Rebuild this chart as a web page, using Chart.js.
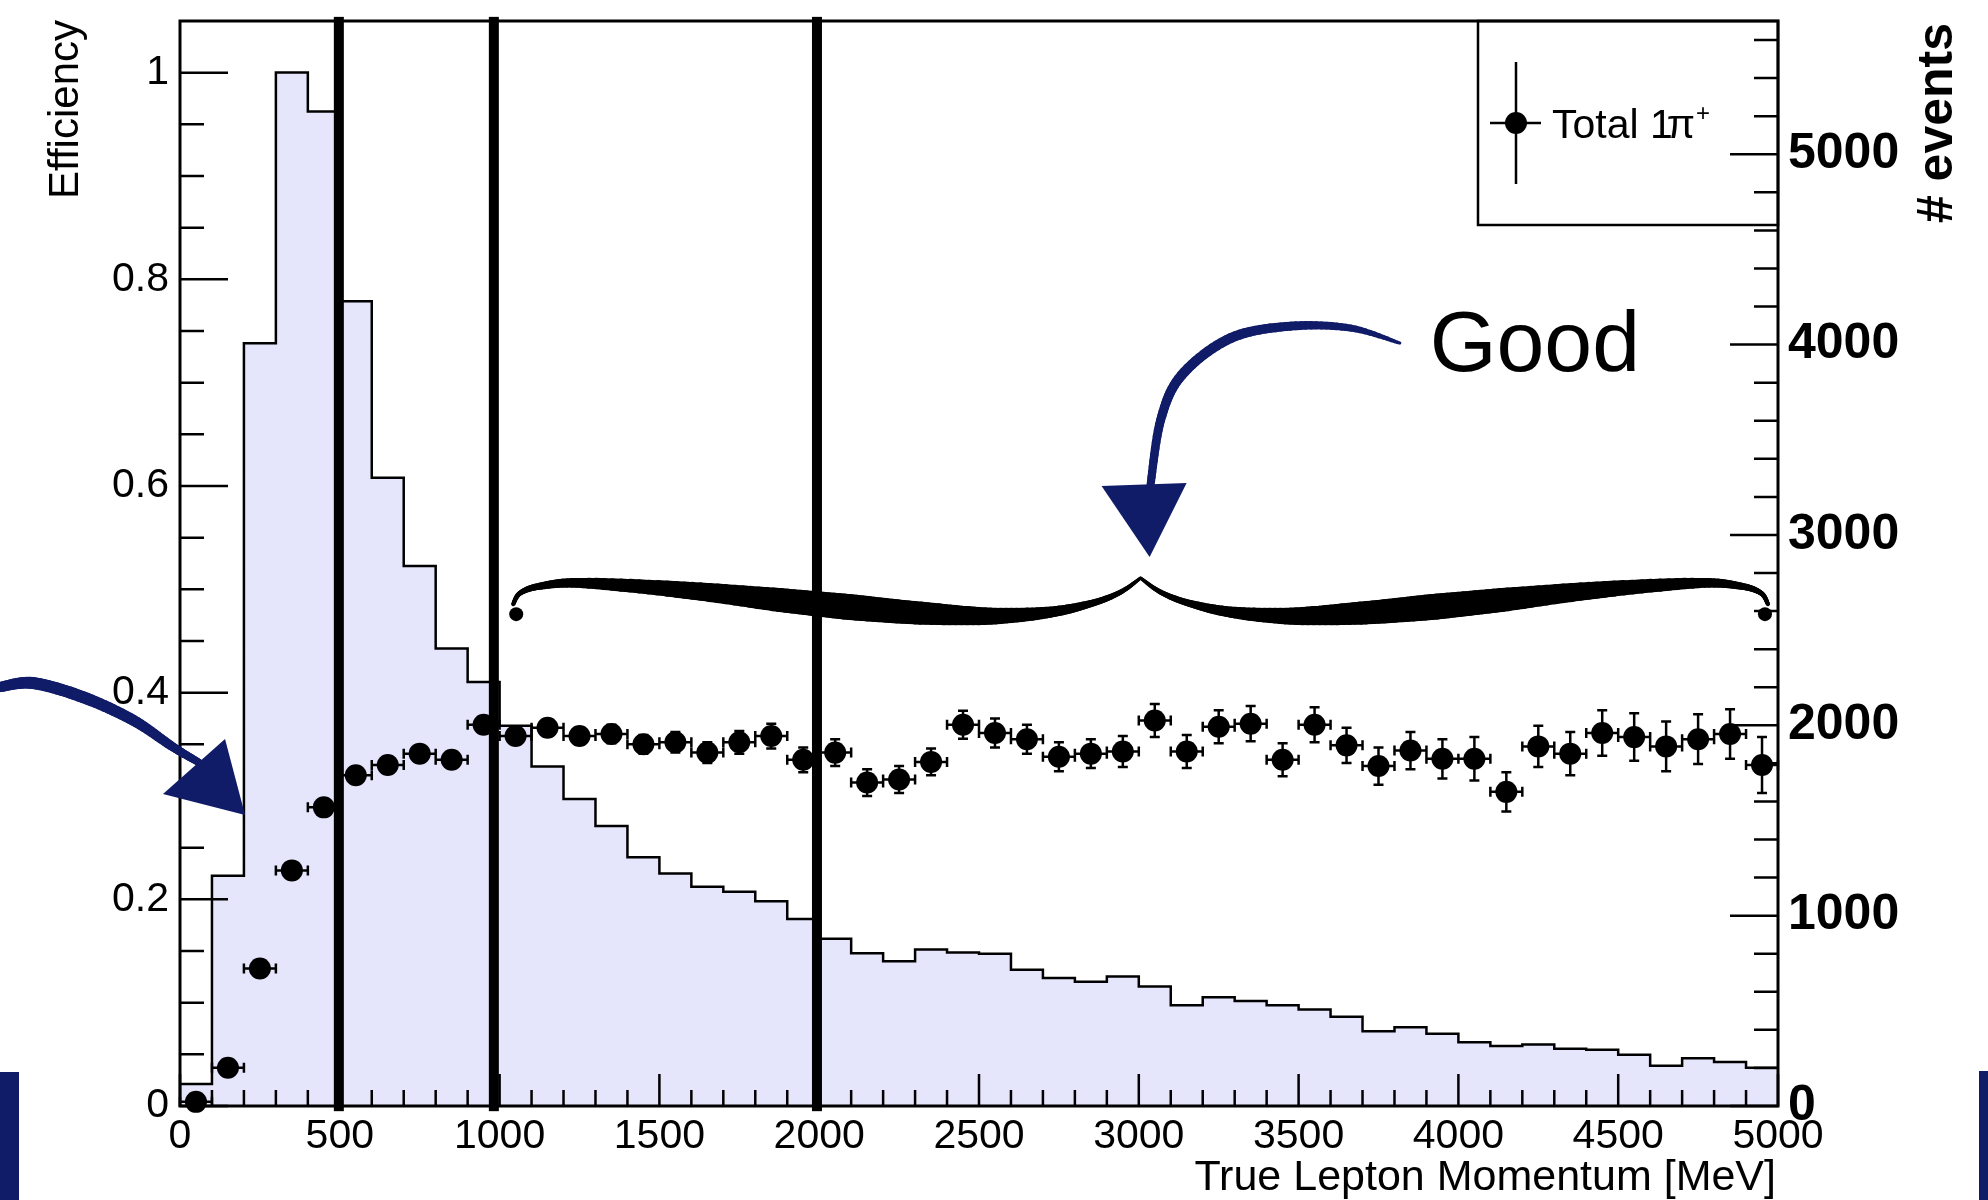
<!DOCTYPE html>
<html>
<head>
<meta charset="utf-8">
<title>Efficiency vs true lepton momentum</title>
<script src="https://cdn.jsdelivr.net/npm/chart.js@4.4.1/dist/chart.umd.min.js"></script>
<style>
  html, body { margin: 0; padding: 0; background: #fff; }
  #wrap { width: 1988px; height: 1200px; position: relative; }
</style>
</head>
<body>
<div id="wrap"><canvas id="chart" width="1988" height="1200"></canvas></div>
<script>
// --- DATA (100 MeV bins) ---
const binEdges = [0, 100, 200, 300, 400, 500, 600, 700, 800, 900,
  1000, 1100, 1200, 1300, 1400, 1500, 1600, 1700, 1800, 1900,
  2000, 2100, 2200, 2300, 2400, 2500, 2600, 2700, 2800, 2900,
  3000, 3100, 3200, 3300, 3400, 3500, 3600, 3700, 3800, 3900,
  4000, 4100, 4200, 4300, 4400, 4500, 4600, 4700, 4800, 4900];
const binCenters = [50, 150, 250, 350, 450, 550, 650, 750, 850, 950,
  1050, 1150, 1250, 1350, 1450, 1550, 1650, 1750, 1850, 1950,
  2050, 2150, 2250, 2350, 2450, 2550, 2650, 2750, 2850, 2950,
  3050, 3150, 3250, 3350, 3450, 3550, 3650, 3750, 3850, 3950,
  4050, 4150, 4250, 4350, 4450, 4550, 4650, 4750, 4850, 4950];
const binHalfWidth = 50;

// # events per bin (right axis)
const histEvents = [115, 1210, 4007, 5430, 5224, 4228, 3300, 2837, 2403, 2228,
  1998, 1784, 1613, 1471, 1307, 1222, 1152, 1125, 1076, 982,
  878, 802, 760, 822, 806, 800, 716, 672, 653, 680,
  628, 529, 571, 551, 529, 507, 469, 393, 414, 379,
  335, 315, 323, 301, 295, 269, 211, 251, 231, 201];

// Total 1pi+ efficiency (left axis)
const effValues = [0.004, 0.037, 0.133, 0.228, 0.289, 0.320, 0.330, 0.341, 0.335, 0.369,
  0.358, 0.366, 0.358, 0.360, 0.350, 0.352, 0.342, 0.352, 0.358, 0.335,
  0.342, 0.313, 0.316, 0.333, 0.369, 0.361, 0.355, 0.338, 0.341, 0.343,
  0.373, 0.343, 0.367, 0.370, 0.335, 0.369, 0.349, 0.329, 0.344, 0.336,
  0.336, 0.304, 0.348, 0.341, 0.361, 0.357, 0.348, 0.355, 0.360, 0.330];
const effErrors = [0.003, 0.004, 0.005, 0.005, 0.005, 0.005, 0.005, 0.006, 0.006, 0.007,
  0.007, 0.008, 0.008, 0.009, 0.009, 0.010, 0.010, 0.011, 0.012, 0.012,
  0.013, 0.013, 0.013, 0.013, 0.0135, 0.014, 0.014, 0.014, 0.014, 0.015,
  0.016, 0.016, 0.016, 0.017, 0.016, 0.017, 0.017, 0.018, 0.018, 0.019,
  0.021, 0.019, 0.020, 0.021, 0.022, 0.023, 0.024, 0.024, 0.024, 0.027];

const momentumTicks = [0, 500, 1000, 1500, 2000, 2500, 3000, 3500, 4000, 4500, 5000];
const effTicks = [0, 0.2, 0.4, 0.6, 0.8, 1];
const eventTicks = [0, 1000, 2000, 3000, 4000, 5000];

// momentum cuts drawn as thick lines
const cutMomenta = [497, 982, 1993];

const legendMain = 'Total 1';
const legendPi = '\u03c0';
const legendSup = '+';
const noteText = 'Good';

// --- annotation geometry, in (momentum, efficiency, stroke px) ---
const braceArm = [[1042.6, 0.4857, 4], [1064.5, 0.4964, 5], [1127.1, 0.5031, 7], [1258.6, 0.5061, 10],
  [1578.0, 0.4993, 17], [1878.5, 0.4896, 24], [2097.7, 0.4828, 26], [2316.8, 0.4770, 23],
  [2536.0, 0.4741, 17], [2723.9, 0.4780, 11], [2855.4, 0.4867, 7], [2943.0, 0.4973, 5], [3005.6, 0.5109, 3]];
const braceKnob = [1052.0, 0.476];
const braceTip = 3005.6;
const arrowLeft = [[-563.6, 0.4054, 10], [-460.2, 0.4093, 12], [-303.7, 0.3957, 12], [-147.2, 0.3735, 11], [-21.9, 0.3474, 9], [62.6, 0.3319, 7]];
const arrowLeftHead = [[-53.2, 0.3019], [140.9, 0.3551], [203.5, 0.2816]];
const arrowGood = [[3816.5, 0.7383, 3], [3663.1, 0.7528, 7], [3475.3, 0.7547, 9], [3287.4, 0.7431, 10], [3134.0, 0.7073, 10], [3068.3, 0.6638, 9], [3037.0, 0.6019, 8]];
const arrowGoodHead = [[2883.5, 0.6000], [3149.6, 0.6028], [3033.8, 0.5312]];
const notePos = [3910, 0.711];

const FONT = "'Liberation Sans', Arial, Helvetica, sans-serif";
const NAVY = '#101c68';
const FILL = '#e5e5fb';

const xMax = 5000;
const histPoints = binEdges.map((e, i) => ({ x: e, y: histEvents[i] }));
histPoints.push({ x: xMax, y: histEvents[histEvents.length - 1] });
const effPoints = binCenters.map((c, i) => ({ x: c, y: effValues[i] }));

// --- helpers ---
function toPx(chart, p) {
    return [chart.scales.x.getPixelForValue(p[0]), chart.scales.y.getPixelForValue(p[1]), p[2]];
}

function smooth(pts, steps) {
    const out = [];
    for (let i = 0; i < pts.length - 1; i++) {
        const p0 = pts[Math.max(i - 1, 0)], p1 = pts[i], p2 = pts[i + 1], p3 = pts[Math.min(i + 2, pts.length - 1)];
        for (let s = 0; s < steps; s++) {
            const t = s / steps, t2 = t * t, t3 = t2 * t;
            const f = k => 0.5 * (2 * p1[k] + (-p0[k] + p2[k]) * t + (2 * p0[k] - 5 * p1[k] + 4 * p2[k] - p3[k]) * t2 + (-p0[k] + 3 * p1[k] - 3 * p2[k] + p3[k]) * t3);
            out.push([f(0), f(1), p1[2] + (p2[2] - p1[2]) * t]);
        }
    }
    out.push(pts[pts.length - 1]);
    return out;
}

function taperedStroke(ctx, pts) {
    const s = smooth(pts, 12);
    ctx.lineCap = 'round';
    for (let i = 0; i < s.length - 1; i++) {
        ctx.lineWidth = (s[i][2] + s[i + 1][2]) / 2;
        ctx.beginPath();
        ctx.moveTo(s[i][0], s[i][1]);
        ctx.lineTo(s[i + 1][0], s[i + 1][1]);
        ctx.stroke();
    }
}

function triangle(ctx, pts) {
    ctx.beginPath();
    ctx.moveTo(pts[0][0], pts[0][1]);
    ctx.lineTo(pts[1][0], pts[1][1]);
    ctx.lineTo(pts[2][0], pts[2][1]);
    ctx.closePath();
    ctx.fill();
}

// no auto padding: keep the frame where ROOT put it
function fixPadding(s) {
    s.paddingTop = 0; s.paddingBottom = 0; s.paddingLeft = 0; s.paddingRight = 0;
}

// --- error bars under the markers ---
const errorBars = {
    id: 'errorBars',
    beforeDatasetDraw(chart, args) {
        if (args.index !== 1) return;
        const { ctx, scales: { x, y } } = chart;
        ctx.save();
        ctx.strokeStyle = '#000';
        ctx.lineWidth = 2.5;
        ctx.beginPath();
        binCenters.forEach((c, i) => {
            const xc = x.getPixelForValue(c);
            const yc = y.getPixelForValue(effValues[i]);
            const x0 = x.getPixelForValue(c - binHalfWidth), x1 = x.getPixelForValue(c + binHalfWidth);
            const yt = y.getPixelForValue(effValues[i] + effErrors[i]);
            const yb = y.getPixelForValue(effValues[i] - effErrors[i]);
            ctx.moveTo(x0, yc); ctx.lineTo(x1, yc);
            ctx.moveTo(x0, yc - 5); ctx.lineTo(x0, yc + 5);
            ctx.moveTo(x1, yc - 5); ctx.lineTo(x1, yc + 5);
            ctx.moveTo(xc, yt); ctx.lineTo(xc, yb);
            ctx.moveTo(xc - 5, yt); ctx.lineTo(xc + 5, yt);
            ctx.moveTo(xc - 5, yb); ctx.lineTo(xc + 5, yb);
        });
        ctx.stroke();
        ctx.restore();
    }
};

// --- frame, inward ticks, legend, notes ---
const decorations = {
    id: 'decorations',
    beforeDraw(chart) {
        const ctx = chart.ctx;
        ctx.save();
        ctx.fillStyle = '#fff';
        ctx.fillRect(0, 0, chart.width, chart.height);
        ctx.restore();
    },
    afterDatasetsDraw(chart) {
        const { ctx, chartArea: a, scales } = chart;
        ctx.save();

        // ticks
        ctx.strokeStyle = '#000';
        ctx.lineWidth = 2.5;
        ctx.beginPath();
        for (let v = 0; v <= xMax; v += 100) {
            const xp = scales.x.getPixelForValue(v);
            const len = v % 500 === 0 ? 32 : 16;
            ctx.moveTo(xp, a.bottom); ctx.lineTo(xp, a.bottom - len);
        }
        for (let i = 0; i <= 20; i++) {
            const yp = scales.y.getPixelForValue(i * 0.05);
            const len = i % 4 === 0 ? 48 : 24;
            ctx.moveTo(a.left, yp); ctx.lineTo(a.left + len, yp);
        }
        for (let v = 0; v <= scales.y2.max; v += 200) {
            const yp = scales.y2.getPixelForValue(v);
            const len = v % 1000 === 0 ? 48 : 24;
            ctx.moveTo(a.right, yp); ctx.lineTo(a.right - len, yp);
        }
        ctx.stroke();

        // frame
        ctx.lineWidth = 3;
        ctx.strokeRect(a.left, a.top, a.right - a.left, a.bottom - a.top);

        // legend
        const lw = 300, lh = 204;
        const lx = a.right - lw, ly = a.top;
        ctx.lineWidth = 2.5;
        ctx.strokeRect(lx, ly, lw, lh);
        const mx = lx + 38, my = ly + 102;
        ctx.beginPath();
        ctx.moveTo(mx, my - 61); ctx.lineTo(mx, my + 61);
        ctx.moveTo(mx - 26, my); ctx.lineTo(mx + 25, my);
        ctx.stroke();
        ctx.fillStyle = '#000';
        ctx.beginPath();
        ctx.arc(mx, my, 11, 0, Math.PI * 2);
        ctx.fill();
        ctx.font = '41px ' + FONT;
        ctx.textAlign = 'left';
        ctx.textBaseline = 'alphabetic';
        let tx = lx + 74;
        ctx.fillText(legendMain, tx, ly + 117);
        tx += ctx.measureText(legendMain).width - 6;
        ctx.fillText(legendPi, tx, ly + 117);
        tx += ctx.measureText(legendPi).width;
        ctx.font = '24px ' + FONT;
        ctx.fillText(legendSup, tx + 1, ly + 100);

        // momentum cut lines
        const yTop = scales.y.getPixelForValue(1.054), yBot = scales.y.getPixelForValue(-0.005);
        cutMomenta.forEach(m => {
            const xp = scales.x.getPixelForValue(m);
            ctx.fillRect(xp - 5, yTop, 10, yBot - yTop);
        });

        // curly brace
        ctx.strokeStyle = '#000';
        const left = braceArm.map(p => toPx(chart, p));
        const right = braceArm.map(p => toPx(chart, [2 * braceTip - p[0], p[1], p[2]]));
        taperedStroke(ctx, left);
        taperedStroke(ctx, right);
        [braceKnob, [2 * braceTip - braceKnob[0], braceKnob[1]]].forEach(k => {
            const p = toPx(chart, k);
            ctx.beginPath();
            ctx.arc(p[0], p[1], 7, 0, Math.PI * 2);
            ctx.fill();
        });

        // hand drawn arrows
        ctx.strokeStyle = NAVY;
        ctx.fillStyle = NAVY;
        taperedStroke(ctx, arrowLeft.map(p => toPx(chart, p)));
        triangle(ctx, arrowLeftHead.map(p => toPx(chart, p)));
        taperedStroke(ctx, arrowGood.map(p => toPx(chart, p)));
        triangle(ctx, arrowGoodHead.map(p => toPx(chart, p)));

        // "Good"
        const g = toPx(chart, notePos);
        ctx.fillStyle = '#000';
        ctx.font = '86px ' + FONT;
        ctx.fillText(noteText, g[0], g[1]);

        // axis titles
        ctx.font = '43px ' + FONT;
        ctx.textAlign = 'right';
        ctx.fillText('True Lepton Momentum [MeV]', a.right - 2, 1190);
        ctx.save();
        ctx.font = '42px ' + FONT;
        ctx.translate(78, a.top - 1);
        ctx.rotate(-Math.PI / 2);
        ctx.fillText('Efficiency', 0, 0);
        ctx.restore();
        ctx.save();
        ctx.font = 'bold 50px ' + FONT;
        ctx.translate(1952, a.top + 2);
        ctx.rotate(-Math.PI / 2);
        ctx.fillText('# events', 0, 0);
        ctx.restore();

        // slide edge bars
        ctx.fillStyle = NAVY;
        ctx.fillRect(0, 1072, 19, 128);
        ctx.fillRect(1979, 1071, 9, 129);

        ctx.restore();
    }
};

const tickFont = { family: FONT, size: 41 };

new Chart(document.getElementById('chart'), {
    data: {
        datasets: [{
            type: 'line',
            label: 'events',
            data: histPoints,
            yAxisID: 'y2',
            stepped: 'before',
            borderColor: '#000',
            borderWidth: 2.5,
            backgroundColor: FILL,
            fill: 'origin',
            pointRadius: 0,
            order: 2
        }, {
            type: 'scatter',
            label: 'Total 1\u03c0+',
            data: effPoints,
            yAxisID: 'y',
            pointRadius: 11,
            pointBackgroundColor: '#000',
            pointBorderWidth: 0,
            clip: false,
            order: 1
        }]
    },
    options: {
        responsive: false,
        animation: false,
        layout: { padding: { top: 21, left: 0, right: 0, bottom: 0 } },
        plugins: { legend: { display: false }, tooltip: { enabled: false } },
        scales: {
            x: {
                type: 'linear', min: 0, max: xMax,
                grid: { display: false, drawTicks: false },
                border: { display: false },
                afterBuildTicks: s => { s.ticks = momentumTicks.map(v => ({ value: v })); },
                afterFit: s => { s.height = 94; fixPadding(s); },
                ticks: { font: tickFont, color: '#000', padding: 6, maxRotation: 0, minRotation: 0, autoSkip: false, callback: v => String(v) }
            },
            y: {
                type: 'linear', position: 'left', min: 0, max: 1.05,
                grid: { display: false, drawTicks: false },
                border: { display: false },
                afterBuildTicks: s => { s.ticks = effTicks.map(v => ({ value: v })); },
                afterFit: s => { s.width = 180; fixPadding(s); },
                ticks: { font: tickFont, color: '#000', padding: 11, callback: v => String(v) }
            },
            y2: {
                type: 'linear', position: 'right', min: 0, max: 5700,
                grid: { display: false, drawTicks: false },
                border: { display: false },
                afterBuildTicks: s => { s.ticks = eventTicks.map(v => ({ value: v })); },
                afterFit: s => { s.width = 210; fixPadding(s); },
                ticks: { font: { family: FONT, size: 50, weight: 'bold' }, color: '#000', padding: 10, callback: v => String(v) }
            }
        }
    },
    plugins: [errorBars, decorations]
});
</script>
</body>
</html>
